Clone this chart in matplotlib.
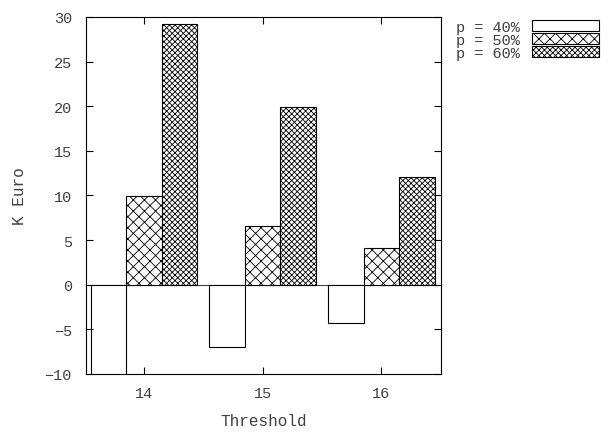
import numpy as np
from matplotlib import pyplot as plt

thresholds = [14, 15, 16]
p40 = [-11.0, -7.0, -4.3]
p50 = [9.9, 6.6, 4.1]
p60 = [29.2, 19.9, 12.1]
labels = ["p = 40%", "p = 50%", "p = 60%"]

plt.rcParams['font.family'] = ['Liberation Mono', 'DejaVu Sans Mono']
plt.rcParams['hatch.linewidth'] = 0.6

txt = '#404040'
fig = plt.figure(figsize=(6.13, 4.39), dpi=100)
ax = fig.add_axes([0.140, 0.146, 0.579, 0.813])

x = np.array(thresholds)
w = 0.3
ax.bar(x - w, p40, w, color='white', edgecolor='black', linewidth=0.8, label=labels[0])
ax.bar(x, p50, w, color='white', edgecolor='black', linewidth=0.8, hatch='xxx', label=labels[1])
ax.bar(x + w, p60, w, color='white', edgecolor='black', linewidth=0.8, hatch='xxxxxx', label=labels[2])
ax.axhline(0, color='#444444', linewidth=0.8, zorder=0.5)

ax.set_xlim(13.51, 16.5)
ax.set_ylim(-10, 30)
ax.set_xticks(thresholds)
ax.set_yticks(range(-10, 31, 5))
ax.tick_params(direction='in', top=True, right=True, length=5, labelsize=11,
               labelcolor=txt, width=0.8)
ax.tick_params(axis='x', pad=9)
ax.tick_params(axis='y', pad=10)
for s in ax.spines.values():
    s.set_linewidth(0.8)

ax.set_xlabel("Threshold", fontsize=11.5, color=txt, labelpad=9)
ax.set_ylabel("K Euro", fontsize=11.5, color=txt, labelpad=13)

ax.legend(loc='upper left', bbox_to_anchor=(1.025, 1.01), frameon=False, markerfirst=False,
          fontsize=11, handlelength=4.4, handleheight=0.7, labelspacing=-0.05,
          handletextpad=0.8, borderaxespad=0, labelcolor=txt)

fig.savefig("out.png", dpi=100)
